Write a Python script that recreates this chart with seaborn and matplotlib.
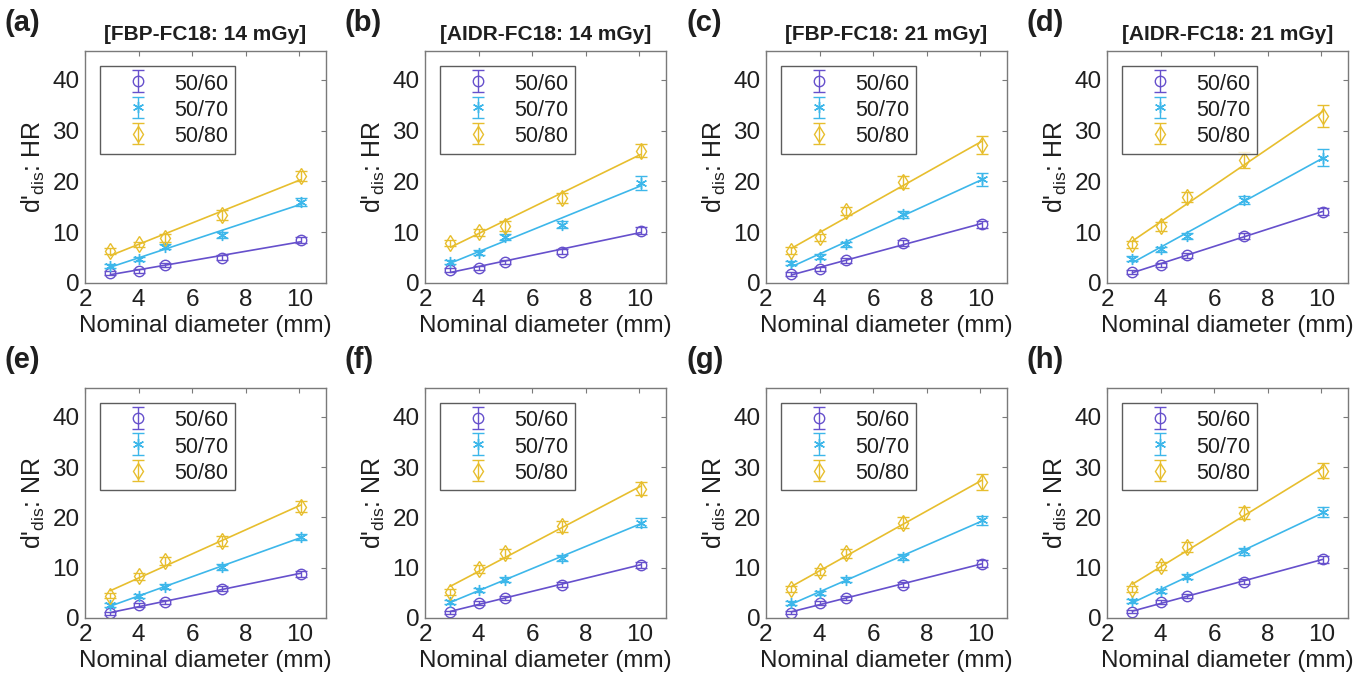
import numpy as np
import matplotlib
matplotlib.use("Agg")
import matplotlib.pyplot as plt
import seaborn as sns

sns.set_style("white")
plt.rcParams['font.family'] = ['Liberation Sans', 'DejaVu Sans']
plt.rcParams['mathtext.fontset'] = 'custom'
plt.rcParams['mathtext.rm'] = 'Liberation Sans'
plt.rcParams['mathtext.it'] = 'Liberation Sans'

# nominal diameters (mm), as plotted
diam = [2.95, 4.0, 5.0, 7.1, 10.05]
groups = ["50/60", "50/70", "50/80"]

# d'dis values, rows = 50/60, 50/70, 50/80
a_vals = [[2.0, 2.4, 3.5, 5.0, 8.4], [3.4, 4.7, 7.1, 9.5, 15.9], [6.3, 7.6, 8.9, 13.4, 21.0]]
a_errs = [[0.4, 0.4, 0.4, 0.5, 0.6], [0.4, 0.4, 0.5, 0.6, 0.8], [0.5, 0.5, 0.8, 0.9, 1.0]]
b_vals = [[2.6, 3.0, 4.2, 6.2, 10.3], [4.1, 6.0, 9.0, 11.5, 19.7], [7.9, 10.0, 11.3, 16.8, 26.1]]
b_errs = [[0.4, 0.4, 0.4, 0.5, 0.7], [0.4, 0.5, 0.6, 0.7, 1.3], [0.6, 0.7, 1.0, 1.0, 1.3]]
c_vals = [[1.8, 2.7, 4.5, 7.8, 11.6], [3.9, 5.2, 7.6, 13.5, 20.4], [6.4, 9.0, 14.2, 19.9, 27.2]]
c_errs = [[0.4, 0.4, 0.5, 0.6, 0.7], [0.4, 0.5, 0.5, 0.6, 1.3], [0.6, 0.7, 0.8, 1.1, 1.8]]
d_vals = [[2.2, 3.5, 5.5, 9.3, 14.0], [4.8, 6.6, 9.2, 16.3, 24.7], [7.6, 11.2, 17.0, 24.2, 32.9]]
d_errs = [[0.4, 0.4, 0.5, 0.6, 0.7], [0.5, 0.5, 0.6, 0.8, 1.7], [0.7, 0.9, 1.0, 1.6, 2.2]]
e_vals = [[0.9, 2.5, 3.2, 5.8, 8.8], [2.5, 4.4, 6.2, 10.1, 16.1], [4.4, 8.3, 11.4, 15.3, 22.1]]
e_errs = [[0.3, 0.4, 0.4, 0.5, 0.6], [0.4, 0.4, 0.5, 0.6, 0.6], [0.5, 0.7, 0.8, 0.9, 1.1]]
f_vals = [[1.1, 3.0, 4.0, 6.6, 10.6], [3.2, 5.5, 7.6, 11.9, 18.9], [5.2, 9.7, 12.9, 18.2, 25.7]]
f_errs = [[0.3, 0.4, 0.4, 0.5, 0.6], [0.4, 0.4, 0.5, 0.6, 0.9], [0.6, 0.8, 0.9, 1.1, 1.3]]
g_vals = [[1.0, 3.0, 4.0, 6.6, 10.8], [3.0, 5.0, 7.6, 12.1, 19.4], [5.8, 9.3, 12.9, 18.9, 27.0]]
g_errs = [[0.3, 0.4, 0.4, 0.5, 0.7], [0.4, 0.4, 0.5, 0.6, 0.9], [0.6, 0.7, 0.9, 1.1, 1.6]]
h_vals = [[1.2, 3.2, 4.3, 7.2, 11.7], [3.4, 5.3, 8.2, 13.3, 21.0], [5.8, 10.3, 14.2, 20.9, 29.3]]
h_errs = [[0.3, 0.4, 0.4, 0.5, 0.7], [0.4, 0.4, 0.5, 0.7, 1.0], [0.6, 0.8, 1.0, 1.2, 1.5]]

titles = ["[FBP-FC18: 14 mGy]", "[AIDR-FC18: 14 mGy]", "[FBP-FC18: 21 mGy]", "[AIDR-FC18: 21 mGy]"]
letters = ["(a)", "(b)", "(c)", "(d)", "(e)", "(f)", "(g)", "(h)"]
row_labels = ["HR", "NR"]

colors = ["#6650CC", "#3DB7EA", "#E7BE2E"]
markers = ["o", (6, 2, 0), "d"]
msizes = [7.5, 8, 8]

vals = [a_vals, b_vals, c_vals, d_vals, e_vals, f_vals, g_vals, h_vals]
errs = [a_errs, b_errs, c_errs, d_errs, e_errs, f_errs, g_errs, h_errs]

fig = plt.figure(figsize=(13.68, 6.88), dpi=100)
lefts = [85, 425, 766, 1107]
axcol = "#7a7a7a"
txt = "#1f1f1f"

for i in range(8):
    row, col = divmod(i, 4)
    if row == 0:
        top, bot = 51, 283
    else:
        top, bot = 388, 618
    ax = fig.add_axes([lefts[col] / 1368, 1 - bot / 688, 241 / 1368, (bot - top) / 688])
    for k in range(3):
        # linear fit line through the points
        sns.regplot(x=np.array(diam), y=np.array(vals[i][k]), ax=ax, ci=None, scatter=False,
                    line_kws=dict(color=colors[k], lw=1.2))
        ax.errorbar(diam, vals[i][k], yerr=errs[i][k], fmt="none", ecolor=colors[k],
                    elinewidth=1.0, capsize=4, capthick=1.0)
        ax.plot(diam, vals[i][k], ls="none", marker=markers[k], ms=msizes[k], mfc="none",
                mec=colors[k], mew=1.0)
    # legend proxies
    handles = []
    for k in range(3):
        h = ax.errorbar([np.nan], [np.nan], yerr=[1], marker=markers[k], ls="none", color=colors[k],
                        mfc="none", mec=colors[k], ms=msizes[k], mew=1.0, elinewidth=1.0,
                        capsize=4, label=groups[k])
        handles.append(h)
    leg = ax.legend(handles=handles, loc="upper left", bbox_to_anchor=(0.063, 0.935), fontsize=15.5,
                    frameon=True, fancybox=False, handlelength=2.9, handletextpad=0.25,
                    borderpad=0.3, labelspacing=0.2, borderaxespad=0, handleheight=1.0)
    leg.get_frame().set_edgecolor("#333333")
    leg.get_frame().set_linewidth(1.0)
    for t in leg.get_texts():
        t.set_color(txt)

    ax.set_xlim(2, 11)
    ax.set_ylim(0, 45.7)
    ax.set_xticks([2, 4, 6, 8, 10])
    ax.set_yticks([0, 10, 20, 30, 40])
    ax.tick_params(direction="in", length=3.5, width=0.8, color=axcol, labelsize=17.5,
                   labelcolor=txt, top=True, right=True, pad=4)
    for sp in ax.spines.values():
        sp.set_color(axcol)
        sp.set_linewidth(1.0)
    ax.set_xlabel("Nominal diameter (mm)", fontsize=17.5, color=txt, labelpad=3)
    ax.set_ylabel(r"d'$_{\rm dis}$: " + row_labels[row], fontsize=18, color=txt, labelpad=4)
    if row == 0:
        ax.set_title(titles[col], fontsize=15, fontweight="bold", color=txt, pad=8)
    fig.text((lefts[col] - 80) / 1368, 1 - (top - 28) / 688, letters[i], fontsize=21,
             fontweight="bold", color=txt, va="center", ha="left")

fig.savefig("out.png", dpi=100, facecolor="white")
